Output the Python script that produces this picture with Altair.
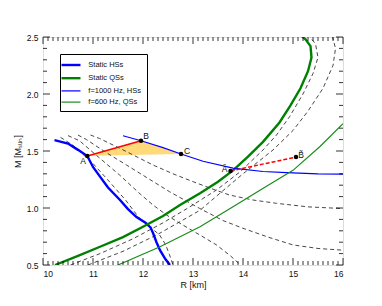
import altair as alt
import pandas as pd

FONT = "Liberation Sans"

# ---- data ----
names = ["Static HSs", "Static QSs", "f=1000 Hz, HSs", "f=600 Hz, QSs"]
colors = ["#0000ff", "#008000", "#0000ff", "#1a8c1a"]
widths = [2.4, 2.4, 1.2, 1.2]

hs_static_R = [10.23, 10.5, 10.7, 10.886, 11.0, 11.14, 11.3, 11.54, 11.7, 11.87, 12.05, 12.15, 12.2, 12.27, 12.34, 12.45, 12.54]
hs_static_M = [1.596, 1.565, 1.51, 1.456, 1.36, 1.275, 1.18, 1.07, 0.99, 0.92, 0.87, 0.83, 0.78, 0.70, 0.63, 0.55, 0.50]

qs_static_R = [10.24, 10.7, 11.14, 11.6, 12.0, 12.4, 12.74, 13.14, 13.5, 13.8, 14.1, 14.4, 14.73, 14.95, 15.15, 15.3, 15.37, 15.35, 15.25, 15.12]
qs_static_M = [0.50, 0.58, 0.66, 0.745, 0.836, 0.93, 1.026, 1.13, 1.23, 1.33, 1.45, 1.58, 1.75, 1.90, 2.05, 2.20, 2.32, 2.42, 2.48, 2.53]

hs_f1000_R = [11.6, 11.96, 12.4, 12.76, 13.2, 13.8, 14.4, 14.87, 15.5, 16.0]
hs_f1000_M = [1.634, 1.59, 1.53, 1.474, 1.41, 1.35, 1.32, 1.31, 1.30, 1.298]

qs_f600_R = [11.5, 12.34, 13.14, 13.8, 14.47, 15.0, 15.54, 16.0]
qs_f600_M = [0.50, 0.66, 0.836, 1.01, 1.19, 1.33, 1.54, 1.74]

dash_curves = [
    # descending sequences
    ([10.35, 10.6, 11.0, 11.33, 11.65, 11.93, 12.15, 12.33, 12.45, 12.53, 12.6],
     [1.62, 1.55, 1.39, 1.23, 1.07, 0.91, 0.83, 0.765, 0.68, 0.59, 0.50]),
    ([10.5, 10.73, 11.1, 11.53, 11.9, 12.2, 12.5, 12.8, 13.15, 13.47, 13.75, 13.95],
     [1.635, 1.59, 1.45, 1.29, 1.14, 1.026, 0.93, 0.85, 0.76, 0.676, 0.58, 0.50]),
    ([10.7, 10.87, 11.25, 11.67, 12.1, 12.53, 13.13, 13.6, 14.0, 14.5, 15.0, 15.5, 16.0],
     [1.64, 1.60, 1.49, 1.377, 1.26, 1.143, 0.997, 0.89, 0.822, 0.745, 0.676, 0.645, 0.63]),
    ([10.95, 11.13, 11.6, 12.2, 12.6, 13.0, 13.4, 13.73, 14.2, 14.67, 15.3, 16.0],
     [1.64, 1.61, 1.51, 1.377, 1.30, 1.231, 1.165, 1.114, 1.07, 1.041, 1.01, 0.995]),
    # ascending sequences
    ([10.55, 11.14, 11.8, 12.4, 12.9, 13.47, 13.95, 14.4, 14.67, 14.93, 15.2, 15.4, 15.5, 15.45, 15.3],
     [0.50, 0.60, 0.73, 0.87, 1.0, 1.158, 1.32, 1.509, 1.64, 1.80, 2.0, 2.18, 2.32, 2.44, 2.52]),
    ([10.9, 11.6, 12.3, 13.14, 13.54, 14.0, 14.6, 15.0, 15.3, 15.6, 15.8, 15.85, 15.78],
     [0.50, 0.62, 0.77, 0.98, 1.13, 1.30, 1.509, 1.68, 1.85, 2.05, 2.25, 2.40, 2.52]),
]

pts_R = [10.886, 11.96, 12.76, 13.75, 15.06]
pts_M = [1.456, 1.59, 1.474, 1.325, 1.447]

lab_text = ["A", "B", "C", "Ã", "B̃"]
lab_R = [10.8, 12.06, 12.88, 13.63, 15.16]
lab_M = [1.41, 1.63, 1.50, 1.34, 1.465]

x_major = [10, 11, 12, 13, 14, 15, 16]
y_major = [0.5, 1.0, 1.5, 2.0, 2.5]
x_minor = [round(10 + i * 0.1, 1) for i in range(61) if i % 10 != 0]
y_minor = [round(0.5 + i * 0.1, 1) for i in range(21) if i % 5 != 0]

# ---- tables ----
rows = []
for name, rr, mm in zip(names, [hs_static_R, qs_static_R, hs_f1000_R, qs_f600_R],
                        [hs_static_M, qs_static_M, hs_f1000_M, qs_f600_M]):
    for i, (r, m) in enumerate(zip(rr, mm)):
        rows.append({"series": name, "R": r, "M": m, "i": i})
df_main = pd.DataFrame(rows)

drows = []
for k, (rr, mm) in enumerate(dash_curves):
    for i, (r, m) in enumerate(zip(rr, mm)):
        drows.append({"curve": k, "R": r, "M": m, "i": i})
df_dash = pd.DataFrame(drows)

A, B, C = 0, 1, 2
def lin(x):
    return pts_M[A] + (x - pts_R[A]) / (pts_R[C] - pts_R[A]) * (pts_M[C] - pts_M[A])
df_fill = pd.DataFrame({
    "R": [pts_R[A], pts_R[B], pts_R[C]],
    "M": [pts_M[A], pts_M[B], pts_M[C]],
    "M2": [pts_M[A], lin(pts_R[B]), pts_M[C]],
})
df_red = pd.DataFrame({"R": pts_R[0:2], "M": pts_M[0:2]})
df_red2 = pd.DataFrame({"R": pts_R[3:5], "M": pts_M[3:5]})
df_pts = pd.DataFrame({"R": pts_R, "M": pts_M})
df_lab = pd.DataFrame({"R": lab_R, "M": lab_M, "t": lab_text})

W, H = 300, 228
xs = alt.Scale(domain=[10, 16], nice=False, zero=False)
ys = alt.Scale(domain=[0.5, 2.5], nice=False, zero=False)

xaxis = alt.Axis(values=x_major, format="d", ticks=False, domain=False, grid=False,
                 labelFontSize=8.5, labelFont=FONT, labelColor="#111", labelPadding=4,
                 title="R [km]", titleFont=FONT, titleFontSize=9, titleFontWeight="normal",
                 titleColor="#111", titlePadding=3)
yaxis = alt.Axis(values=y_major, format=".1f", ticks=False, domain=False, grid=False,
                 labelFontSize=8.5, labelFont=FONT, labelColor="#111", labelPadding=5,
                 title="M [Mₛᵤₙ]", titleFont=FONT, titleFontSize=9, titleFontWeight="normal",
                 titleColor="#111", titlePadding=4)

NB = "\u00a0" * 14
leg = dict(orient="none", legendX=17, legendY=17, symbolType="M-2,0H2", symbolSize=90,
           labelFontSize=7.5, labelFont=FONT, labelColor="#111", strokeColor="black",
           fillColor="white", padding=5, rowPadding=2.2, labelOffset=11.3, title=None,
           labelExpr="datum.label + '" + NB + "'")

X = lambda: alt.X("R:Q", scale=xs, axis=xaxis)
Y = lambda: alt.Y("M:Q", scale=ys, axis=yaxis)

fill = alt.Chart(df_fill).mark_area(color="#ffd97a", opacity=1).encode(
    x=X(), y=Y(), y2="M2:Q")

dashed = alt.Chart(df_dash).mark_line(clip=True, strokeDash=[4, 3], strokeWidth=0.9, color="#333").encode(
    x=X(), y=Y(), detail="curve:N", order="i:Q")

main = alt.Chart(df_main).mark_line(clip=True).encode(
    x=X(), y=Y(),
    color=alt.Color("series:N", scale=alt.Scale(domain=names, range=colors), legend=alt.Legend(**leg)),
    strokeWidth=alt.StrokeWidth("series:N", scale=alt.Scale(type="ordinal", domain=names, range=widths),
                                legend=alt.Legend(**leg)),
    order="i:Q",
)

red = alt.Chart(df_red).mark_line(color="#ff0000", strokeWidth=1.5).encode(x=X(), y=Y())
red2 = alt.Chart(df_red2).mark_line(color="#ff0000", strokeWidth=1.5, strokeDash=[4, 2]).encode(x=X(), y=Y())
pts = alt.Chart(df_pts).mark_point(size=20, filled=True, shape="circle", color="black", opacity=1).encode(x=X(), y=Y())
labs = alt.Chart(df_lab).mark_text(fontSize=8.5, font=FONT, color="#111").encode(x=X(), y=Y(), text="t:N")

def xticks(vals, L):
    d = pd.DataFrame({"R": vals})
    b = alt.Chart(d).mark_rule(color="black", strokeWidth=0.8).encode(
        x=X(), y=alt.value(H), y2=alt.value(H - L))
    t = alt.Chart(d).mark_rule(color="black", strokeWidth=0.8).encode(
        x=X(), y=alt.value(0), y2=alt.value(L))
    return [b, t]

def yticks(vals, L):
    d = pd.DataFrame({"M": vals})
    l = alt.Chart(d).mark_rule(color="black", strokeWidth=0.8).encode(
        y=Y(), x=alt.value(0), x2=alt.value(L))
    r = alt.Chart(d).mark_rule(color="black", strokeWidth=0.8).encode(
        y=Y(), x=alt.value(W), x2=alt.value(W - L))
    return [l, r]

tick_layers = xticks(x_major, 7) + xticks(x_minor, 4) + yticks(y_major, 7) + yticks(y_minor, 4)

chart = alt.layer(fill, dashed, main, red, red2, pts, labs, *tick_layers).properties(
    width=W, height=H,
    autosize=alt.AutoSizeParams(type="none"),
    padding={"left": 35, "top": 29, "right": 31, "bottom": 33},
).configure_view(stroke="black", strokeWidth=1).configure(background="white")

chart.save("out.html", embed_options={"renderer": "svg", "actions": False})
